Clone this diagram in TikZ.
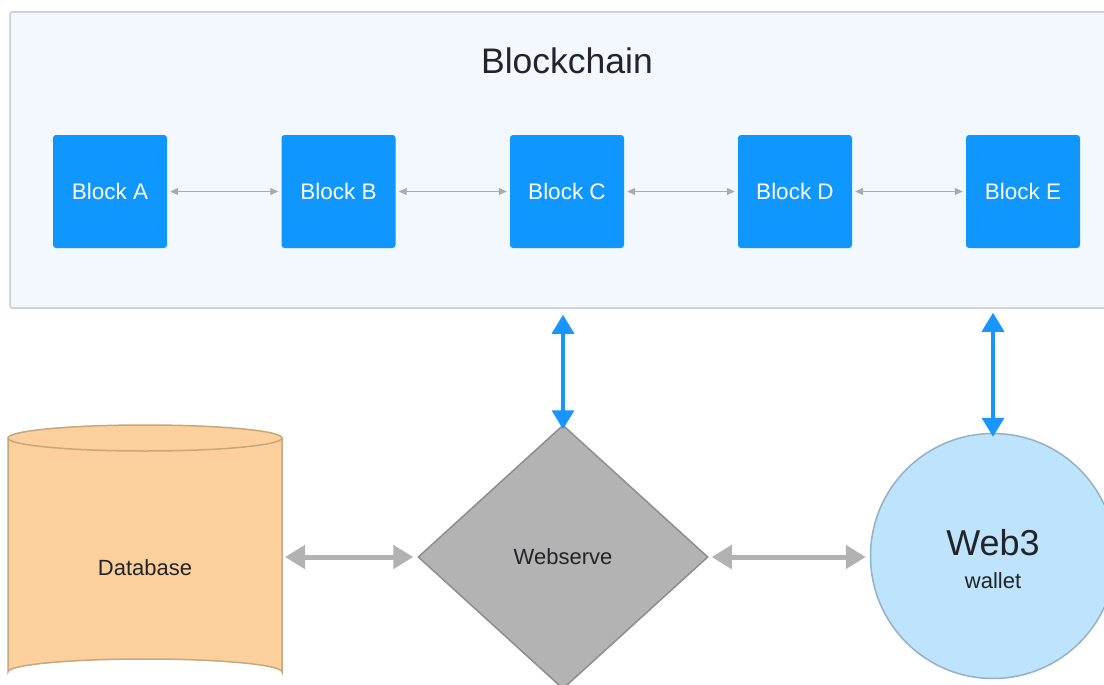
\documentclass[tikz,border=0pt]{standalone}
\usepackage{fontspec}
\setmainfont{Liberation Sans}
\usetikzlibrary{arrows.meta,shapes.geometric}
\definecolor{framefill}{HTML}{F3F8FE}
\definecolor{frameline}{HTML}{C9CCD1}
\definecolor{blockblue}{HTML}{1097FF}
\definecolor{thingray}{HTML}{ABABAB}
\definecolor{linkblue}{HTML}{1895FF}
\definecolor{thickgray}{HTML}{B2B2B2}
\definecolor{diamfill}{HTML}{B3B3B3}
\definecolor{diamline}{HTML}{8E8E8E}
\definecolor{dbfill}{HTML}{FBD09C}
\definecolor{dbline}{HTML}{C9A77C}
\definecolor{wfill}{HTML}{BEE3FC}
\definecolor{wline}{HTML}{93B1C7}
\definecolor{txt}{HTML}{222427}
\tikzset{
  blockbox/.style={rectangle, rounded corners=3pt, fill=blockblue, text=white,
    minimum width=114pt, minimum height=113pt, inner sep=0pt, font=\fontsize{22.5}{26}\selectfont},
  thinlink/.style={draw=thingray, line width=1.1pt, {Triangle[length=8pt,width=7pt]}-{Triangle[length=8pt,width=7pt]}, shorten <=3pt, shorten >=3pt},
  bluelink/.style={draw=linkblue, line width=3.5pt, {Triangle[length=19pt,width=22pt]}-{Triangle[length=19pt,width=22pt]}},
  graylink/.style={draw=thickgray, line width=5pt, {Triangle[length=20pt,width=23pt]}-{Triangle[length=20pt,width=23pt]}},
  lbl/.style={text=txt, font=\fontsize{22}{26}\selectfont}
}
\begin{document}
\begin{tikzpicture}[x=1pt,y=-1pt]
\useasboundingbox (0,0) rectangle (1104,685);
\clip (0,0) rectangle (1104,685);
\fill[white] (0,0) rectangle (1104,685);
% frame
\node[rectangle, rounded corners=2pt, draw=frameline, line width=1.5pt, fill=framefill,
  minimum width=1106pt, minimum height=296pt, inner sep=0pt] (chain) at (563,160) {};
\node[text=txt, font=\fontsize{35.5}{40}\selectfont] (title) at (567,61) {Blockchain};
% blocks
\node[blockbox] (A) at (110,191.5) {Block A};
\node[blockbox] (B) at (338.5,191.5) {Block B};
\node[blockbox] (C) at (567,191.5) {Block C};
\node[blockbox] (D) at (795,191.5) {Block D};
\node[blockbox] (E) at (1023,191.5) {Block E};
\draw[thinlink] (A) -- (B);
\draw[thinlink] (B) -- (C);
\draw[thinlink] (C) -- (D);
\draw[thinlink] (D) -- (E);
% database cylinder
\draw[fill=dbfill, draw=dbline, line width=1.5pt]
  (8,438) -- (8,672) arc[start angle=180, end angle=360, x radius=137, y radius=13] -- (282,438) -- cycle;
\draw[fill=dbfill, draw=dbline, line width=1.5pt] (145,438) ellipse[x radius=137, y radius=13];
\node[lbl] (db) at (145,568) {Database};
\coordinate (dbE) at (282,557);
% webserver diamond
\node[diamond, draw=diamline, fill=diamfill, line width=1.5pt, minimum width=290pt, minimum height=264pt,
  inner sep=0pt, aspect=1.1, lbl] (web) at (563,557) {Webserve};
% wallet circle
\node[circle, draw=wline, fill=wfill, line width=1.5pt, minimum size=245pt, inner sep=0pt] (wallet) at (993,556) {};
\node[text=txt, font=\fontsize{36}{40}\selectfont] (w3) at (993,543) {Web3};
\node[lbl] (wl) at (993,581) {wallet};
% links
\draw[bluelink] (chain.south -| web.north) ++(0,6) -- ([yshift=-5pt]web.north);
\draw[bluelink] (chain.south -| wallet.north) ++(0,4) -- ([yshift=-4pt]wallet.north);
\draw[graylink] ([xshift=3pt]dbE) -- ([xshift=-4pt]web.west);
\draw[graylink] ([xshift=3pt]web.east) -- ([xshift=-4pt]web.east -| wallet.west);
\end{tikzpicture}
\end{document}
